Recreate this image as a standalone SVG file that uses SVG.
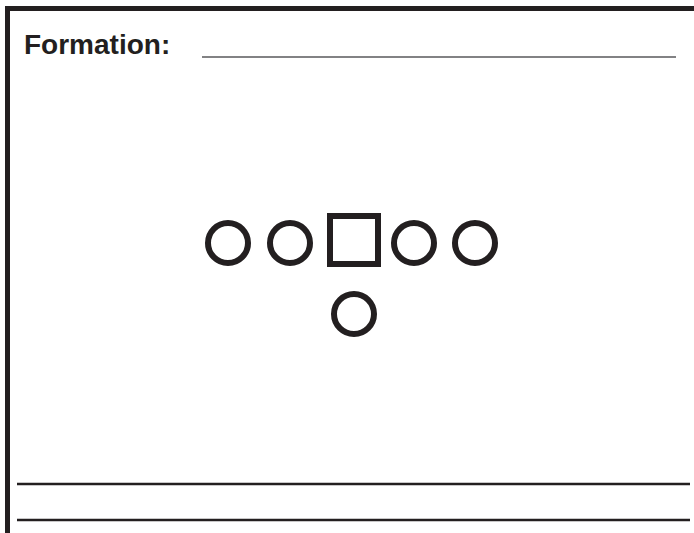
<svg xmlns="http://www.w3.org/2000/svg" width="694" height="533" viewBox="0 0 694 533">
<style>
.border{stroke:#231f20;stroke-width:5;fill:none}
.rule{stroke:#231f20;stroke-width:2.5;fill:none}
.blank{stroke:#58595b;stroke-width:1.5;fill:none}
.player{stroke:#231f20;stroke-width:6;fill:none}
.label{font-family:"Liberation Sans",Arial,sans-serif;font-weight:bold;font-size:28px;fill:#231f20}
</style>
<rect width="694" height="533" fill="#ffffff"/>
<g id="frame">
<path class="border" d="M7.5 533 V8.5 H694"/>
</g>
<g id="title">
<text class="label" x="24" y="54">Formation:</text>
<line class="blank" x1="202" y1="57" x2="676" y2="57"/>
</g>
<g id="lines">
<line class="rule" x1="17" y1="484" x2="690" y2="484"/>
<line class="rule" x1="17" y1="520" x2="690" y2="520"/>
</g>
<g id="p1"><circle class="player" cx="228" cy="243" r="20"/></g>
<g id="p2"><circle class="player" cx="290" cy="243" r="20"/></g>
<g id="center"><rect class="player" x="330" y="216" width="48" height="48"/></g>
<g id="p4"><circle class="player" cx="414" cy="243" r="20"/></g>
<g id="p5"><circle class="player" cx="475" cy="243" r="20"/></g>
<g id="qb"><circle class="player" cx="354" cy="314" r="20"/></g>
</svg>
